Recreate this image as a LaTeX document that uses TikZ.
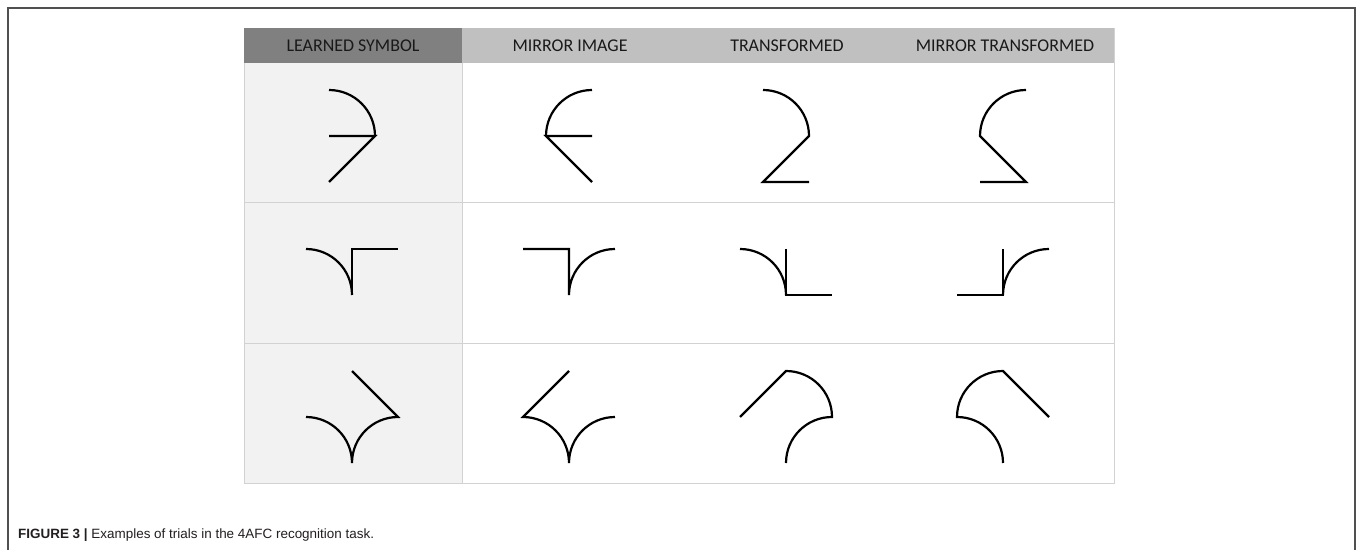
\documentclass[tikz,border=0pt]{standalone}
\usepackage{fontspec}
\setmainfont{Carlito}
\newfontfamily\capfont{Liberation Sans}
\definecolor{framegray}{HTML}{505050}
\definecolor{gridgray}{HTML}{D2D2D2}
\definecolor{headdark}{HTML}{808080}
\definecolor{headlight}{HTML}{C0C0C0}
\definecolor{firstcol}{HTML}{F2F2F2}
\definecolor{captext}{HTML}{231F20}
\begin{document}
\begin{tikzpicture}[x=1bp, y=-1bp,
  glyph/.style={line width=2.2bp, black, line join=miter},
  grid/.style={draw=gridgray, line width=1bp},
  headtext/.style={font=\fontsize{18}{21}\selectfont, text=black!90, inner sep=0pt, anchor=center}]
\useasboundingbox (0,0) rectangle (1360,550);
\fill[white] (0,0) rectangle (1360,550);

% page frame, open at the bottom
\draw[framegray, line width=1.6bp] (8,551) -- (8,8) -- (1355,8) -- (1355,551);

% table: header band, shaded first column, rules
\fill[headdark] (244,28) rectangle (462,63);
\fill[headlight] (462,28) rectangle (1114,63);
\fill[firstcol] (244,63) rectangle (462,483);
\draw[grid] (244,63) -- (244,483) -- (1114,483) -- (1114,28);
\draw[grid] (244,203) -- (1114,203);
\draw[grid] (244,343) -- (1114,343);
\draw[grid] (462,63) -- (462,483);

\node[headtext] (hLearned) at (353,46) {LEARNED SYMBOL};
\node[headtext] (hMirror)  at (570,46) {MIRROR IMAGE};
\node[headtext] (hTrans)   at (787,46) {TRANSFORMED};
\node[headtext] (hMirTr)   at (1005,46) {MIRROR TRANSFORMED};

% ---------- row 1 ----------
\begin{scope}[shift={(352,0)}]
  \draw[glyph] (-23,90) arc[start angle=-90, end angle=0, radius=46];
  \draw[glyph] (-23,136) -- (23,136) -- (-23,182);
\end{scope}
\begin{scope}[shift={(569,0)}]
  \draw[glyph] (23,90) arc[start angle=-90, end angle=-180, radius=46];
  \draw[glyph] (23,136) -- (-23,136) -- (23,182);
\end{scope}
\begin{scope}[shift={(786,0)}]
  \draw[glyph] (-23,90) arc[start angle=-90, end angle=0, radius=46]
                -- (-23,182) -- (23,182);
\end{scope}
\begin{scope}[shift={(1003,0)}]
  \draw[glyph] (23,90) arc[start angle=-90, end angle=-180, radius=46]
                -- (23,182) -- (-23,182);
\end{scope}

% ---------- row 2 ----------
\begin{scope}[shift={(352,0)}]
  \draw[glyph] (-46,249) arc[start angle=-90, end angle=0, radius=46];
  \draw[glyph] (0,295) -- (0,249) -- (46,249);
\end{scope}
\begin{scope}[shift={(569,0)}]
  \draw[glyph] (-46,249) -- (0,249) -- (0,295)
                arc[start angle=180, end angle=270, radius=46];
\end{scope}
\begin{scope}[shift={(786,0)}]
  \draw[glyph] (-46,249) arc[start angle=-90, end angle=0, radius=46];
  \draw[glyph] (0,249) -- (0,295) -- (46,295);
\end{scope}
\begin{scope}[shift={(1003,0)}]
  \draw[glyph] (-46,295) -- (0,295) -- (0,249);
  \draw[glyph] (0,295) arc[start angle=180, end angle=270, radius=46];
\end{scope}

% ---------- row 3 ----------
\begin{scope}[shift={(352,0)}]
  \draw[glyph] (0,371) -- (46,417)
                arc[start angle=270, end angle=180, radius=46]
                arc[start angle=0, end angle=-90, radius=46];
\end{scope}
\begin{scope}[shift={(569,0)}]
  \draw[glyph] (0,371) -- (-46,417)
                arc[start angle=-90, end angle=0, radius=46]
                arc[start angle=180, end angle=270, radius=46];
\end{scope}
\begin{scope}[shift={(786,0)}]
  \draw[glyph] (-46,417) -- (0,371)
                arc[start angle=-90, end angle=0, radius=46]
                arc[start angle=270, end angle=180, radius=46];
\end{scope}
\begin{scope}[shift={(1003,0)}]
  \draw[glyph] (46,417) -- (0,371)
                arc[start angle=-90, end angle=-180, radius=46]
                arc[start angle=-90, end angle=0, radius=46];
\end{scope}

% caption
\node[anchor=base west, inner sep=0pt, text=captext,
      font=\capfont\fontsize{13.5}{16}\selectfont] (caption) at (18,538)
  {\textbf{FIGURE 3} \textbf{|} Examples of trials in the 4AFC recognition task.};
\end{tikzpicture}
\end{document}
